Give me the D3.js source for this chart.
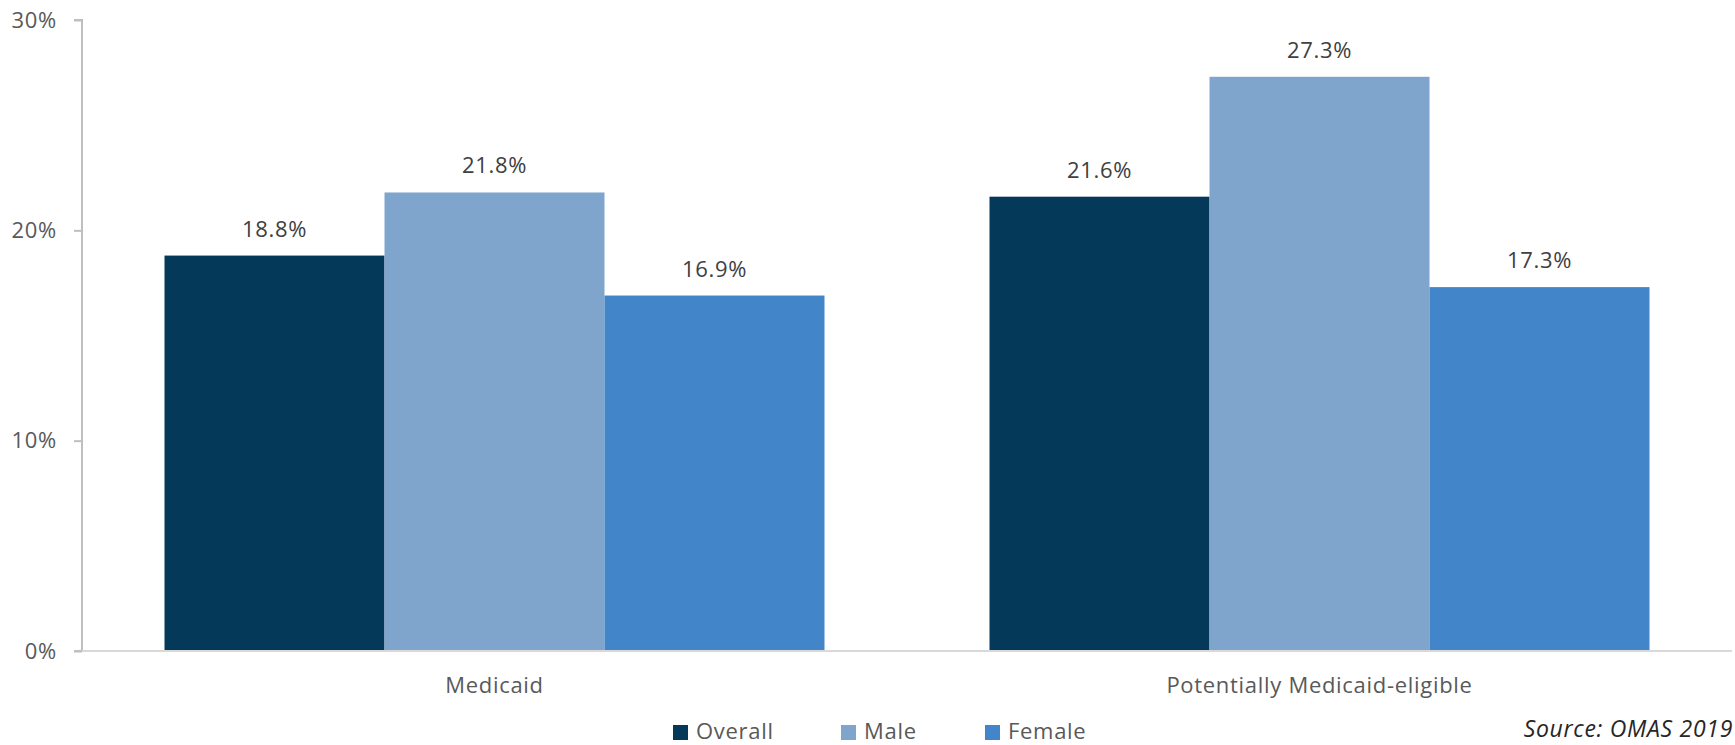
<!DOCTYPE html>
<html>
<head>
<meta charset="utf-8">
<script src="https://cdn.jsdelivr.net/npm/d3@7"></script>
<style>
  html, body { margin: 0; padding: 0; background: #fff; }
  svg { display: block; }
  text { font-family: "Open Sans", "Noto Sans", sans-serif; letter-spacing: 0.7px; }
</style>
</head>
<body>
<svg id="chart" width="1735" height="745"></svg>
<script>
const categories = ["Medicaid", "Potentially Medicaid-eligible"];
const seriesNames = ["Overall", "Male", "Female"];
const overallValues = [18.8, 21.6];
const maleValues = [21.8, 27.3];
const femaleValues = [16.9, 17.3];
const yTicks = [0, 10, 20, 30];
const seriesColors = ["#04395A", "#7FA5CC", "#4285C9"];
const sourceNote = "Source: OMAS 2019";

const svg = d3.select("#chart");
const plot = { left: 82, right: 1732, top: 20, bottom: 651 };

const x0 = d3.scaleBand().domain(categories).range([plot.left, plot.right])
  .paddingInner(0.2).paddingOuter(0.1);
const x1 = d3.scaleBand().domain(seriesNames).range([0, x0.bandwidth()]).padding(0);
const y = d3.scaleLinear().domain([0, 30]).range([plot.bottom, plot.top]);
const color = d3.scaleOrdinal().domain(seriesNames).range(seriesColors);

const valuesBySeries = { Overall: overallValues, Male: maleValues, Female: femaleValues };

// bars
const groups = svg.append("g").selectAll("g").data(categories).join("g")
  .attr("transform", d => `translate(${x0(d)},0)`);

groups.each(function(cat, ci) {
  const g = d3.select(this);
  const rows = seriesNames.map(s => ({ s, v: valuesBySeries[s][ci] }));
  g.selectAll("rect").data(rows).join("rect")
    .attr("x", d => x1(d.s))
    .attr("y", d => y(d.v))
    .attr("width", x1.bandwidth())
    .attr("height", d => y(0) - y(d.v))
    .attr("fill", d => color(d.s));
  g.selectAll("text.lbl").data(rows).join("text")
    .attr("class", "lbl")
    .attr("x", d => x1(d.s) + x1.bandwidth() / 2)
    .attr("y", d => y(d.v) - 19)
    .attr("text-anchor", "middle")
    .attr("font-size", 22)
    .attr("fill", "#404040")
    .text(d => d.v.toFixed(1) + "%");
});

// y axis
const yAxis = d3.axisLeft(y).tickValues(yTicks).tickFormat(d => d + "%").tickSize(8).tickPadding(17);
const ya = svg.append("g").attr("transform", `translate(${plot.left},0)`).call(yAxis);
ya.select(".domain").attr("stroke", "#BFBFBF").attr("stroke-width", 2)
  .attr("d", `M-8,${plot.top}H0V${plot.bottom}H-8`);
ya.selectAll(".tick line").attr("stroke", "#BFBFBF").attr("stroke-width", 2);
ya.selectAll(".tick text").attr("font-size", 22).attr("fill", "#595959")
  .attr("font-family", "'Open Sans', sans-serif");

// x axis baseline
const xAxis = d3.axisBottom(x0).tickSize(0).tickPadding(26);
const xa = svg.append("g").attr("transform", `translate(0,${plot.bottom})`).call(xAxis);
xa.select(".domain").attr("stroke", "#D9D9D9").attr("stroke-width", 2)
  .attr("d", `M${plot.left},0H${plot.right}`);
xa.selectAll(".tick text").attr("font-size", 22).attr("fill", "#595959")
  .attr("font-family", "'Open Sans', sans-serif");

// legend
const legendX = [673, 841, 985];
const legend = svg.append("g").selectAll("g").data(seriesNames).join("g")
  .attr("transform", (d, i) => `translate(${legendX[i]},725)`);
legend.append("rect").attr("width", 15).attr("height", 15).attr("fill", d => color(d));
legend.append("text").attr("x", 23).attr("y", 14).attr("font-size", 22)
  .attr("fill", "#595959").text(d => d);

// source
svg.append("text").attr("x", 1733).attr("y", 737).attr("text-anchor", "end")
  .attr("font-size", 23).attr("font-style", "italic").attr("fill", "#262626")
  .text(sourceNote);
</script>
</body>
</html>
